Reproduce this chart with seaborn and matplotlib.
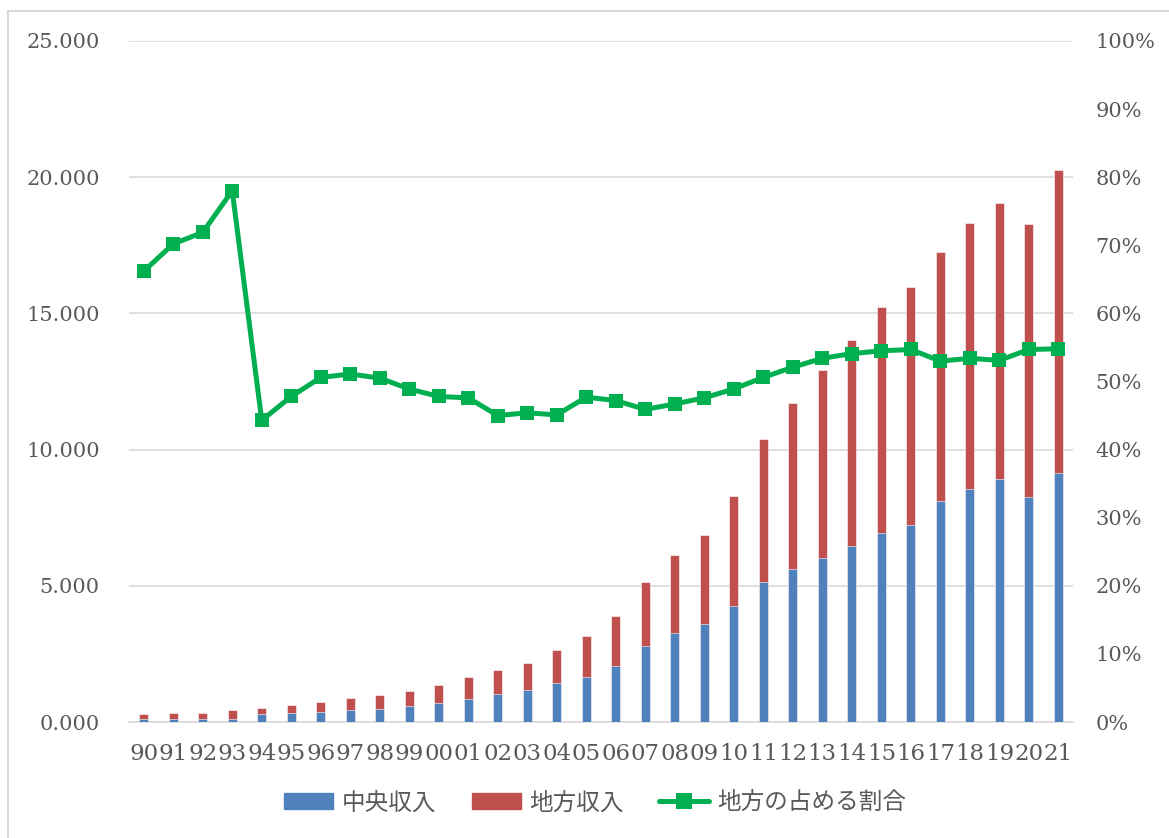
"""
China fiscal revenue: central vs local, with local share (line, right axis)
"""

import numpy as np
import pandas as pd
import matplotlib
matplotlib.use('Agg')
import matplotlib.pyplot as plt
import seaborn as sns
from matplotlib.patches import Patch, Rectangle
from matplotlib.lines import Line2D
from matplotlib.ticker import FuncFormatter, PercentFormatter

# Data
years = ['90', '91', '92', '93', '94', '95', '96', '97', '98', '99',
         '00', '01', '02', '03', '04', '05', '06', '07', '08', '09',
         '10', '11', '12', '13', '14', '15', '16', '17', '18', '19',
         '20', '21']
central = [0.099, 0.094, 0.098, 0.096, 0.291, 0.326, 0.366, 0.423, 0.489, 0.585,
           0.699, 0.858, 1.039, 1.187, 1.450, 1.655, 2.046, 2.775, 3.268, 3.592,
           4.249, 5.133, 5.618, 6.020, 6.449, 6.927, 7.237, 8.112, 8.546, 8.931,
           8.277, 9.147]
local = [0.194, 0.221, 0.250, 0.339, 0.231, 0.299, 0.375, 0.442, 0.498, 0.559,
         0.641, 0.780, 0.852, 0.985, 1.189, 1.510, 1.830, 2.357, 2.865, 3.260,
         4.061, 5.255, 6.108, 6.901, 7.588, 8.300, 8.724, 9.147, 9.790, 10.108,
         10.014, 11.108]
local_share = [66.2, 70.2, 71.9, 78.0, 44.3, 47.8, 50.6, 51.1, 50.5, 48.9,
               47.8, 47.6, 45.0, 45.4, 45.1, 47.7, 47.2, 45.9, 46.7, 47.6,
               48.9, 50.6, 52.1, 53.4, 54.1, 54.5, 54.7, 53.0, 53.4, 53.1,
               54.7, 54.8]

labels = ['中央収入', '地方収入', '地方の占める割合']
c_blue = '#4F81BD'
c_red = '#C0504D'
c_green = '#00B050'
c_text = '#595959'
c_grid = '#D9D9D9'

df = pd.DataFrame({'year': years, 'central': central, 'local': local,
                   'share': np.array(local_share) / 100})
df['total'] = df['central'] + df['local']

sns.set_theme(style='white')
plt.rcParams['font.family'] = ['DejaVu Serif']

fig = plt.figure(figsize=(11.69, 8.38), dpi=100)
ax = fig.add_axes([129 / 1169, 1 - 722 / 838, (1073 - 129) / 1169, (722 - 41) / 838])

# stacked bars: total in red, central drawn over it in blue
sns.barplot(data=df, x='year', y='total', color=c_red, width=0.31, ax=ax,
            saturation=1, edgecolor='white', linewidth=0.4, zorder=2)
sns.barplot(data=df, x='year', y='central', color=c_blue, width=0.31, ax=ax,
            saturation=1, edgecolor='white', linewidth=0.4, zorder=3)

ax.set_ylim(0, 25)
ax.set_yticks(np.arange(0, 26, 5))
ax.yaxis.set_major_formatter(FuncFormatter(lambda v, p: f'{v:.3f}'))
ax.set_xlim(-0.5, len(years) - 0.5)
ax.grid(axis='y', color=c_grid, linewidth=1.2, zorder=0)
ax.set_axisbelow(True)
ax.set_xlabel('')
ax.set_ylabel('')
for s in ['top', 'right', 'left']:
    ax.spines[s].set_visible(False)
ax.spines['bottom'].set_color(c_grid)
ax.spines['bottom'].set_linewidth(1.2)
ax.tick_params(axis='y', length=0, pad=21, labelsize=15, labelcolor=c_text)
ax.tick_params(axis='x', length=0, pad=15, labelsize=16.5, labelcolor=c_text)

# local share line on right axis
ax2 = ax.twinx()
sns.lineplot(data=df, x='year', y='share', color=c_green, linewidth=3.6,
             marker='s', markersize=9.5, markeredgewidth=0, ax=ax2, zorder=4)
ax2.set_ylim(0, 1)
ax2.set_yticks(np.arange(0, 1.01, 0.1))
ax2.yaxis.set_major_formatter(PercentFormatter(1.0, decimals=0))
ax2.set_ylabel('')
for s in ['top', 'right', 'left', 'bottom']:
    ax2.spines[s].set_visible(False)
ax2.tick_params(axis='y', length=0, pad=16, labelsize=15, labelcolor=c_text)

# legend
handles = [Patch(color=c_blue), Patch(color=c_red),
           Line2D([], [], color=c_green, linewidth=3.6, marker='s',
                  markersize=11, markeredgewidth=0)]
leg = fig.legend(handles, labels, loc='center', bbox_to_anchor=(0.509, 0.042),
                 ncol=3, frameon=False, handlelength=2.1, handleheight=0.7,
                 handletextpad=0.35, columnspacing=1.5,
                 prop={'family': 'Noto Sans CJK JP', 'size': 17})
for t in leg.get_texts():
    t.set_color(c_text)

# chart frame
fig.patches.append(Rectangle((8 / 1169, -0.02), 1.2, (838 - 11) / 838 + 0.02,
                             transform=fig.transFigure, fill=False,
                             edgecolor=c_grid, linewidth=1.5))

fig.savefig('out.png', dpi=100)
